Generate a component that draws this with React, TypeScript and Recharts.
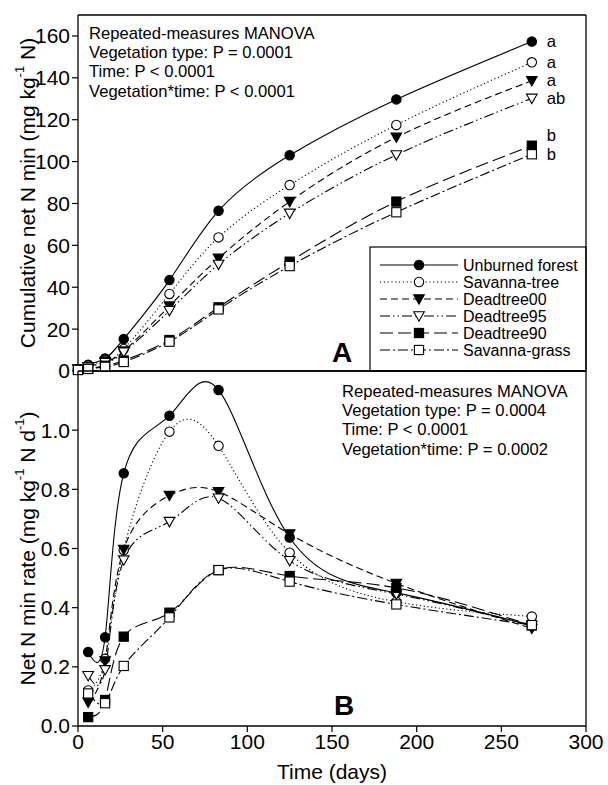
import React from 'react';
import { LineChart, Line, XAxis, YAxis, ReferenceLine, Customized, LabelList, Label } from 'recharts';

// ---------- data ----------
const daysCum = [0, 6, 16, 27, 54, 83, 125, 188, 268];
const forestCum = [1, 3, 6, 15.3, 43.4, 76.5, 103, 129.7, 157.3];
const savTreeCum = [1, 2.5, 5, 10.5, 36.8, 63.8, 88.8, 117.5, 147.4];
const dt00Cum = [1, 2, 4.5, 9.5, 31, 53.8, 80.9, 111.6, 138.6];
const dt95Cum = [1, 2, 4, 9, 28.8, 50.9, 75.3, 103.2, 130.2];
const dt90Cum = [0.5, 1, 2.5, 5, 14.8, 30.4, 52.2, 80.9, 107.6];
const sgCum = [0.5, 1, 2, 4.3, 14, 29.4, 50.1, 75.8, 103.5];

const daysRate = [6, 16, 27, 54, 83, 125, 188, 268];
const forestRate = [0.25, 0.3, 0.854, 1.049, 1.136, 0.637, 0.45, 0.34];
const savTreeRate = [0.12, 0.227, 0.595, 0.995, 0.947, 0.586, 0.42, 0.37];
const dt00Rate = [0.08, 0.22, 0.597, 0.779, 0.792, 0.649, 0.482, 0.33];
const dt95Rate = [0.17, 0.19, 0.561, 0.691, 0.77, 0.559, 0.446, 0.34];
const dt90Rate = [0.03, 0.088, 0.302, 0.383, 0.527, 0.507, 0.467, 0.34];
const sgRate = [0.11, 0.077, 0.203, 0.367, 0.527, 0.488, 0.411, 0.341];

const seriesNames = ['Unburned forest', 'Savanna-tree', 'Deadtree00', 'Deadtree95', 'Deadtree90', 'Savanna-grass'];
const seriesKeys = ['forest', 'savTree', 'dt00', 'dt95', 'dt90', 'sg'];
const cumLetters = ['a', 'a', 'a', 'ab', 'b', 'b'];

const xTicks = [0, 50, 100, 150, 200, 250, 300];
const cumTicks = [0, 20, 40, 60, 80, 100, 120, 140, 160];
const rateTicks = [0, 0.2, 0.4, 0.6, 0.8, 1.0];

const statsA = ['Repeated-measures MANOVA', 'Vegetation type: P = 0.0001', 'Time: P < 0.0001', 'Vegetation*time: P < 0.0001'];
const statsB = ['Repeated-measures MANOVA', 'Vegetation type: P = 0.0004', 'Time: P < 0.0001', 'Vegetation*time: P = 0.0002'];

const cumSeries = [forestCum, savTreeCum, dt00Cum, dt95Cum, dt90Cum, sgCum];
const rateSeries = [forestRate, savTreeRate, dt00Rate, dt95Rate, dt90Rate, sgRate];

const cumData = daysCum.map((d, i) => {
  const row: any = { day: d };
  seriesKeys.forEach((k, s) => (row[k] = cumSeries[s][i]));
  return row;
});
const rateData = daysRate.map((d, i) => {
  const row: any = { day: d };
  seriesKeys.forEach((k, s) => (row[k] = rateSeries[s][i]));
  return row;
});

// ---------- styles ----------
const FONT = '"Liberation Sans", Arial, Helvetica, sans-serif';
const styles = [
  { dash: undefined, shape: 'circle', filled: true },
  { dash: '1.2 2.6', shape: 'circle', filled: false },
  { dash: '7 4', shape: 'tri', filled: true },
  { dash: '10 3 1.5 3 1.5 3', shape: 'tri', filled: false },
  { dash: '13 5', shape: 'square', filled: true },
  { dash: '10 3 2 3', shape: 'square', filled: false },
];
const letterDy = [0, 0, 0, 0, -10, 0];

function Marker({ cx, cy, shape, filled }: any) {
  const fill = filled ? '#000' : '#fff';
  if (cx == null || cy == null) return null;
  if (shape === 'circle') return <circle cx={cx} cy={cy} r={4.7} fill={fill} stroke="#000" strokeWidth={1.1} />;
  if (shape === 'square')
    return <rect x={cx - 4.6} y={cy - 4.6} width={9.2} height={9.2} fill={fill} stroke="#000" strokeWidth={1.1} />;
  return (
    <polygon
      points={`${cx - 5.3},${cy - 4.2} ${cx + 5.3},${cy - 4.2} ${cx},${cy + 5.2}`}
      fill={fill}
      stroke="#000"
      strokeWidth={1.1}
    />
  );
}

const tickStyle = { fontSize: 21, fill: '#000', fontFamily: FONT };

function YTitle({ viewBox, main, sup1, mid, sup2, tail }: any) {
  const cy = viewBox.y + viewBox.height / 2;
  const x = 27;
  return (
    <text
      x={x}
      y={cy}
      transform={`rotate(-90, ${x}, ${cy})`}
      textAnchor="middle"
      dominantBaseline="central"
      fontSize={21}
      fontFamily={FONT}
      fill="#000"
    >
      {main}
      <tspan dy={-8} fontSize={13}>{sup1}</tspan>
      <tspan dy={8}>{mid}</tspan>
      {sup2 ? <tspan dy={-8} fontSize={13}>{sup2}</tspan> : null}
      {sup2 ? <tspan dy={8}>{tail}</tspan> : null}
    </text>
  );
}

function StatsText({ lines, x, y0 }: any) {
  return (
    <g>
      {lines.map((t: string, i: number) => (
        <text key={i} x={x} y={y0 + i * 19.4} fontSize={16.6} fontFamily={FONT} fill="#000" dominantBaseline="central">
          {t}
        </text>
      ))}
    </g>
  );
}

function LegendBox() {
  const x0 = 370;
  const y0 = 247;
  const w = 216;
  const h = 124;
  return (
    <g>
      <rect x={x0} y={y0} width={w} height={h} fill="#fff" stroke="#000" strokeWidth={1.2} />
      {seriesNames.map((n, i) => {
        const cy = y0 + 18 + i * 17;
        const st = styles[i];
        return (
          <g key={n}>
            <line x1={x0 + 10} x2={x0 + 88} y1={cy} y2={cy} stroke="#000" strokeWidth={1.1} strokeDasharray={st.dash} />
            <Marker cx={x0 + 49} cy={cy} shape={st.shape} filled={st.filled} />
            <text x={x0 + 93} y={cy} fontSize={16} fontFamily={FONT} dominantBaseline="central" fill="#000">
              {n}
            </text>
          </g>
        );
      })}
    </g>
  );
}

function PanelLetter({ letter, x, y }: any) {
  return (
    <text x={x} y={y} fontSize={28} fontWeight="bold" fontFamily={FONT} textAnchor="middle" fill="#000">
      {letter}
    </text>
  );
}

function renderSeries(prefix: string, withLetters: boolean) {
  return seriesKeys.map((k, s) => {
    const st = styles[s];
    return (
      <Line
        key={prefix + k}
        type="natural"
        dataKey={k}
        name={seriesNames[s]}
        stroke="#000"
        strokeWidth={1.1}
        strokeDasharray={st.dash}
        isAnimationActive={false}
        dot={(p: any) => <Marker key={`${prefix}${k}-${p.index}`} cx={p.cx} cy={p.cy} shape={st.shape} filled={st.filled} />}
        activeDot={false}
      >
        {withLetters ? (
          <LabelList
            dataKey={k}
            content={(p: any) =>
              p.index === daysCum.length - 1 ? (
                <text
                  x={p.x + 15}
                  y={p.y + letterDy[s]}
                  fontSize={16.6}
                  fontFamily={FONT}
                  dominantBaseline="central"
                  fill="#000"
                >
                  {cumLetters[s]}
                </text>
              ) : null
            }
          />
        ) : null}
      </Line>
    );
  });
}

export default function App() {
  return (
    <div style={{ position: 'absolute', left: 0, top: 0, width: 608, height: 785, background: '#fff' }}>
      <div style={{ position: 'absolute', left: 0, top: 0 }}>
        <LineChart width={608} height={385} data={cumData} margin={{ top: 15, right: 22, bottom: 0, left: 0 }}>
          <XAxis
            dataKey="day"
            type="number"
            domain={[0, 300]}
            ticks={xTicks}
            tick={false}
            height={14}
            tickSize={6}
            axisLine={{ stroke: '#000', strokeWidth: 1.3 }}
            tickLine={{ stroke: '#000', strokeWidth: 1.2 }}
          />
          <YAxis
            type="number"
            domain={[0, 170]}
            ticks={cumTicks}
            width={78}
            tick={tickStyle}
            tickSize={6}
            tickMargin={2}
            interval={0}
            axisLine={{ stroke: '#000', strokeWidth: 1.3 }}
            tickLine={{ stroke: '#000', strokeWidth: 1.2 }}
          >
            <Label
              content={(p: any) => (
                <YTitle viewBox={p.viewBox} main="Cumulative net N min (mg kg" sup1="-1" mid=" N)" />
              )}
            />
          </YAxis>
          <ReferenceLine y={170} stroke="#000" strokeWidth={1.3} />
          <ReferenceLine x={300} stroke="#000" strokeWidth={1.3} />
          {renderSeries('c', true)}
          <Customized
            component={() => (
              <g>
                <StatsText lines={statsA} x={89} y0={33} />
                <LegendBox />
                <PanelLetter letter="A" x={342} y={362} />
              </g>
            )}
          />
        </LineChart>
      </div>
      <div style={{ position: 'absolute', left: 0, top: 360 }}>
        <LineChart width={608} height={425} data={rateData} margin={{ top: 11, right: 22, bottom: 0, left: 0 }}>
          <XAxis
            dataKey="day"
            type="number"
            domain={[0, 300]}
            ticks={xTicks}
            height={59}
            tick={tickStyle}
            tickSize={6}
            tickMargin={2}
            interval={0}
            axisLine={{ stroke: '#000', strokeWidth: 1.3 }}
            tickLine={{ stroke: '#000', strokeWidth: 1.2 }}
          >
            <Label
              content={(p: any) => (
                <text
                  x={p.viewBox.x + p.viewBox.width / 2}
                  y={p.viewBox.y + p.viewBox.height - 6}
                  textAnchor="middle"
                  fontSize={21}
                  fontFamily={FONT}
                  fill="#000"
                >
                  Time (days)
                </text>
              )}
            />
          </XAxis>
          <YAxis
            type="number"
            domain={[0, 1.2]}
            ticks={rateTicks}
            width={78}
            tick={tickStyle}
            tickFormatter={(v: number) => v.toFixed(1)}
            tickSize={6}
            tickMargin={2}
            interval={0}
            axisLine={{ stroke: '#000', strokeWidth: 1.3 }}
            tickLine={{ stroke: '#000', strokeWidth: 1.2 }}
          >
            <Label
              content={(p: any) => (
                <YTitle viewBox={p.viewBox} main="Net N min rate (mg kg" sup1="-1" mid=" N d" sup2="-1" tail=")" />
              )}
            />
          </YAxis>
          <ReferenceLine y={1.2} stroke="#000" strokeWidth={1.3} />
          <ReferenceLine x={300} stroke="#000" strokeWidth={1.3} />
          {renderSeries('r', false)}
          <Customized
            component={() => (
              <g>
                <StatsText lines={statsB} x={342} y0={31} />
                <PanelLetter letter="B" x={344} y={355} />
              </g>
            )}
          />
        </LineChart>
      </div>
    </div>
  );
}
